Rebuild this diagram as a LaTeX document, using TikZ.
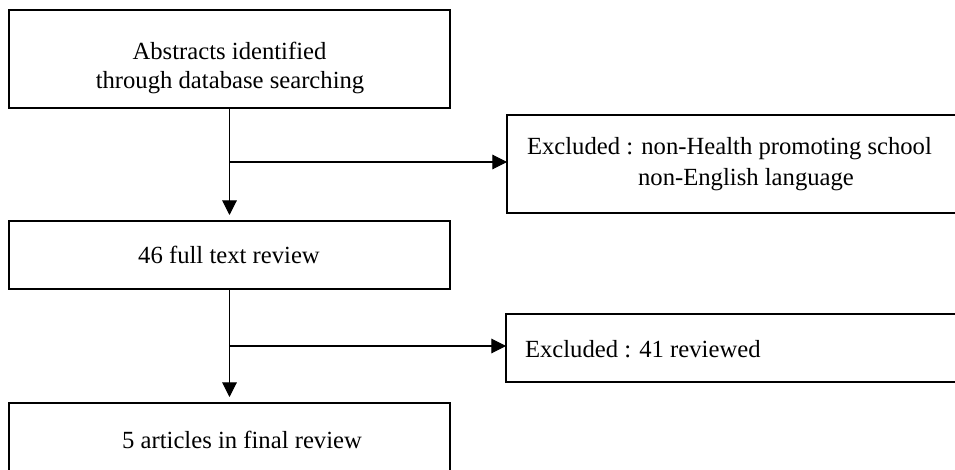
\documentclass[tikz,border=0pt]{standalone}
\usepackage{fontspec}
\setmainfont{Liberation Serif}
\usetikzlibrary{arrows.meta,calc}
\begin{document}
\begin{tikzpicture}[x=0.75pt,y=-0.75pt,
  box/.style={draw=black,line width=0.9pt,rectangle,inner sep=0pt,outer sep=0pt,fill=none},
  txt/.style={inner sep=0pt,outer sep=0pt,font=\fontsize{18.5}{15}\selectfont},
  arr/.style={draw=black,line width=0.8pt,-{Triangle[width=11pt,length=11pt]}}]
\useasboundingbox (0,0) rectangle (955,470);
\clip (0,0) rectangle (955,470);
\fill[white] (0,0) rectangle (955,470);
% boxes
\node[box,minimum width=330.75pt,minimum height=73.5pt] (b1) at (229.5,59) {};
\node[box,minimum width=330.75pt,minimum height=51pt] (b2) at (229.5,255) {};
\node[box,minimum width=330.75pt,minimum height=55.5pt] (b3) at (229.5,440) {};
\node[box,minimum width=343.5pt,minimum height=73.5pt] (r1) at (736,164) {};
\node[box,minimum width=344.25pt,minimum height=51pt] (r2) at (735.5,348) {};
% texts
\node[txt,anchor=base,text depth=0pt] (t1a) at (229.5,60) {Abstracts identified};
\node[txt,anchor=base] (t1b) at (230,89) {through database searching};
\node[txt,anchor=base] (t2) at (229,263) {46 full text review};
\node[txt,anchor=base] (t3) at (242,448) {5 articles in final review};
\node[txt,anchor=base west] (t4a) at (527,155) {Excluded : non-Health promoting school};
\node[txt,anchor=base] (t4b) at (746,186) {non-English language};
\node[txt,anchor=base west] (t5) at (525,357) {Excluded : 41 reviewed};
% connectors
\draw[arr,shorten >=4.5pt] (b1.south) -- (b2.north);
\draw[arr,shorten >=4.5pt] (b2.south) -- (b3.north);
\coordinate (j1) at (229.5,162);
\coordinate (j2) at (229.5,346);
\draw[arr] (j1) -- (j1 -| r1.west);
\draw[arr] (j2) -- (j2 -| r2.west);
\end{tikzpicture}
\end{document}
